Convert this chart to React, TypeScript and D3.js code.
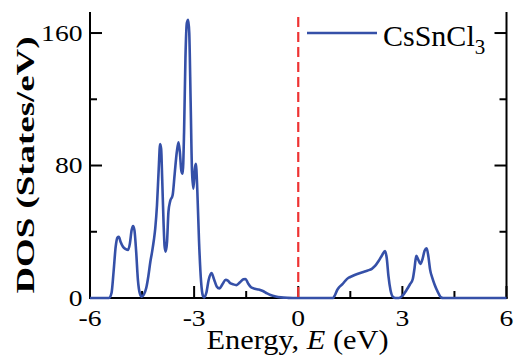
import React from "react";
import * as d3 from "d3";

const energy = [
  -6, -5.45, -5.38, -5.32, -5.26, -5.21, -5.17, -5.12, -5.05, -4.97, -4.9, -4.85, -4.8, -4.76, -4.72, -4.67, -4.62, -4.56, -4.51,
  -4.45, -4.38, -4.32, -4.26, -4.21, -4.16, -4.12, -4.07, -4.02, -3.98, -3.95, -3.92, -3.88, -3.85, -3.82, -3.78, -3.74, -3.69,
  -3.62, -3.56, -3.5, -3.45, -3.41, -3.37, -3.33, -3.29, -3.25, -3.21, -3.17, -3.14, -3.1, -3.06, -3.02, -2.98, -2.95, -2.91,
  -2.86, -2.8, -2.75, -2.71, -2.65, -2.58, -2.5, -2.43, -2.35, -2.27, -2.18, -2.09, -2.03, -1.96, -1.88, -1.78, -1.68, -1.58,
  -1.52, -1.45, -1.36, -1.25, -1.14, -1.02, -0.9, -0.8, -0.65, -0.5, -0.3, -0.15,
  1.0, 1.06, 1.12, 1.19, 1.28, 1.36, 1.45, 1.56, 1.7, 1.85, 2.0, 2.12, 2.22, 2.32, 2.42, 2.5, 2.55, 2.6, 2.66, 2.73, 2.8,
  2.9, 3.0, 3.12, 3.22, 3.3, 3.35, 3.4, 3.46, 3.52, 3.58, 3.64, 3.7, 3.75, 3.8, 3.86, 3.93, 3.99, 4.06, 4.12, 4.17, 6,
];

const dos = [
  0, 0, 3, 16, 31, 36.5, 37, 34, 31, 29.5, 29, 33, 41, 43.5, 41, 28, 11, 2.5, 0.8,
  2, 6, 13, 22, 28, 35, 42, 56, 78, 93, 90, 72, 45, 31, 28, 34, 52, 58.5,
  62, 75, 88, 94, 88, 77, 75, 100, 145, 166, 168, 160, 118, 76, 66, 78, 81, 66,
  35, 10, 1.5, 0.3, 3, 11, 15, 11.5, 7, 5.8, 8.5, 11, 10.5, 9, 8.3, 7.8, 9.5, 11.3,
  11.5, 9, 6.5, 5.6, 5.1, 4.2, 2.8, 1.8, 0.9, 0.4, 0.1, 0,
  0, 1.8, 4.8, 6.8, 8.5, 10.5, 12.2, 13.3, 14.5, 15.6, 16.6, 17.6, 19.5, 22.5, 26, 28.4, 24, 13, 4.5, 0.6, 0,
  0, 1.3, 4.8, 8.3, 11.5, 18, 25.5, 23, 20.5, 23.5, 28.5, 30, 25, 17, 12.3, 8, 5, 2, 0.3, 0, 0,
];

const xMajor = [-6, -3, 0, 3, 6];
const xMinor = [-4.5, -1.5, 1.5, 4.5];
const yMajor = [0, 80, 160];
const yMinor = [40, 120];
const seriesName = "CsSnCl";
const seriesSub = "3";
const xTitle = ["Energy, ", "E", " (eV)"];
const yTitle = "DOS (States/eV)";

const W = 516;
const H = 359;
const left = 90;
const right = 506.5;
const top = 12;
const bottom = 298;

const blue = "#3550a8";
const red = "#ee3333";
const serif = "'Liberation Serif', 'Times New Roman', Times, serif";

export default function App() {
  const x = d3.scaleLinear().domain([-6, 6]).range([left, right]);
  const y = d3.scaleLinear().domain([0, 172.7]).range([bottom, top]);
  const pts: [number, number][] = energy.map((e, i) => [e, dos[i]]);
  const line = d3
    .line<[number, number]>()
    .x((d) => x(d[0]))
    .y((d) => y(d[1]))
    .curve(d3.curveMonotoneX);
  const major = 12;
  const minor = 7;
  const sx = 1.2;
  return (
    <svg
      width={W}
      height={H}
      style={{ position: "absolute", left: 0, top: 0, background: "#fff" }}
      fontFamily={serif}
    >
      {/* axes */}
      <g stroke="#000" strokeWidth={2} fill="none">
        <line x1={left} y1={top} x2={left} y2={bottom + 1} />
        <line x1={right} y1={top} x2={right} y2={bottom + 1} />
        <line x1={left - 1} y1={bottom} x2={right + 1} y2={bottom} />
        {xMajor.map((t) => (
          <line key={"xm" + t} x1={x(t)} x2={x(t)} y1={bottom} y2={bottom - major} />
        ))}
        {xMinor.map((t) => (
          <line key={"xn" + t} x1={x(t)} x2={x(t)} y1={bottom} y2={bottom - minor} />
        ))}
        {yMajor.map((t) => (
          <g key={"ym" + t}>
            <line x1={left} x2={left + major} y1={y(t)} y2={y(t)} />
            <line x1={right} x2={right - major} y1={y(t)} y2={y(t)} />
          </g>
        ))}
        {yMinor.map((t) => (
          <g key={"yn" + t}>
            <line x1={left} x2={left + minor} y1={y(t)} y2={y(t)} />
            <line x1={right} x2={right - minor} y1={y(t)} y2={y(t)} />
          </g>
        ))}
      </g>
      {/* curve */}
      <path d={line(pts) || ""} fill="none" stroke={blue} strokeWidth={2.6} strokeLinejoin="round" />
      {/* fermi level */}
      <line x1={x(0)} x2={x(0)} y1={17} y2={bottom} stroke={red} strokeWidth={2.2} strokeDasharray="10 5" />
      {/* tick labels */}
      <g fontSize={23} fill="#000">
        {xMajor.map((t) => (
          <text key={"xl" + t} transform={`translate(${x(t)},${325.5}) scale(${sx},1)`} textAnchor="middle">
            {t}
          </text>
        ))}
        {yMajor.map((t) => (
          <text key={"yl" + t} transform={`translate(${82.5},${y(t) + 7.5}) scale(${sx},1)`} textAnchor="end">
            {t}
          </text>
        ))}
      </g>
      {/* axis titles */}
      <text x={297.5} y={348.5} fontSize={27} textAnchor="middle" textLength={182} lengthAdjust="spacingAndGlyphs">
        {xTitle[0]}
        <tspan fontStyle="italic">{xTitle[1]}</tspan>
        {xTitle[2]}
      </text>
      <text
        transform="translate(34,165) rotate(-90)"
        fontSize={26}
        fontWeight="bold"
        textAnchor="middle"
        textLength={257}
        lengthAdjust="spacingAndGlyphs"
      >
        {yTitle}
      </text>
      {/* legend */}
      <line x1={307} x2={377} y1={y(160)} y2={y(160)} stroke={blue} strokeWidth={2.4} />
      <text x={383} y={46} fontSize={30}>
        {seriesName}
        <tspan fontSize={21} dy={8}>
          {seriesSub}
        </tspan>
      </text>
    </svg>
  );
}
